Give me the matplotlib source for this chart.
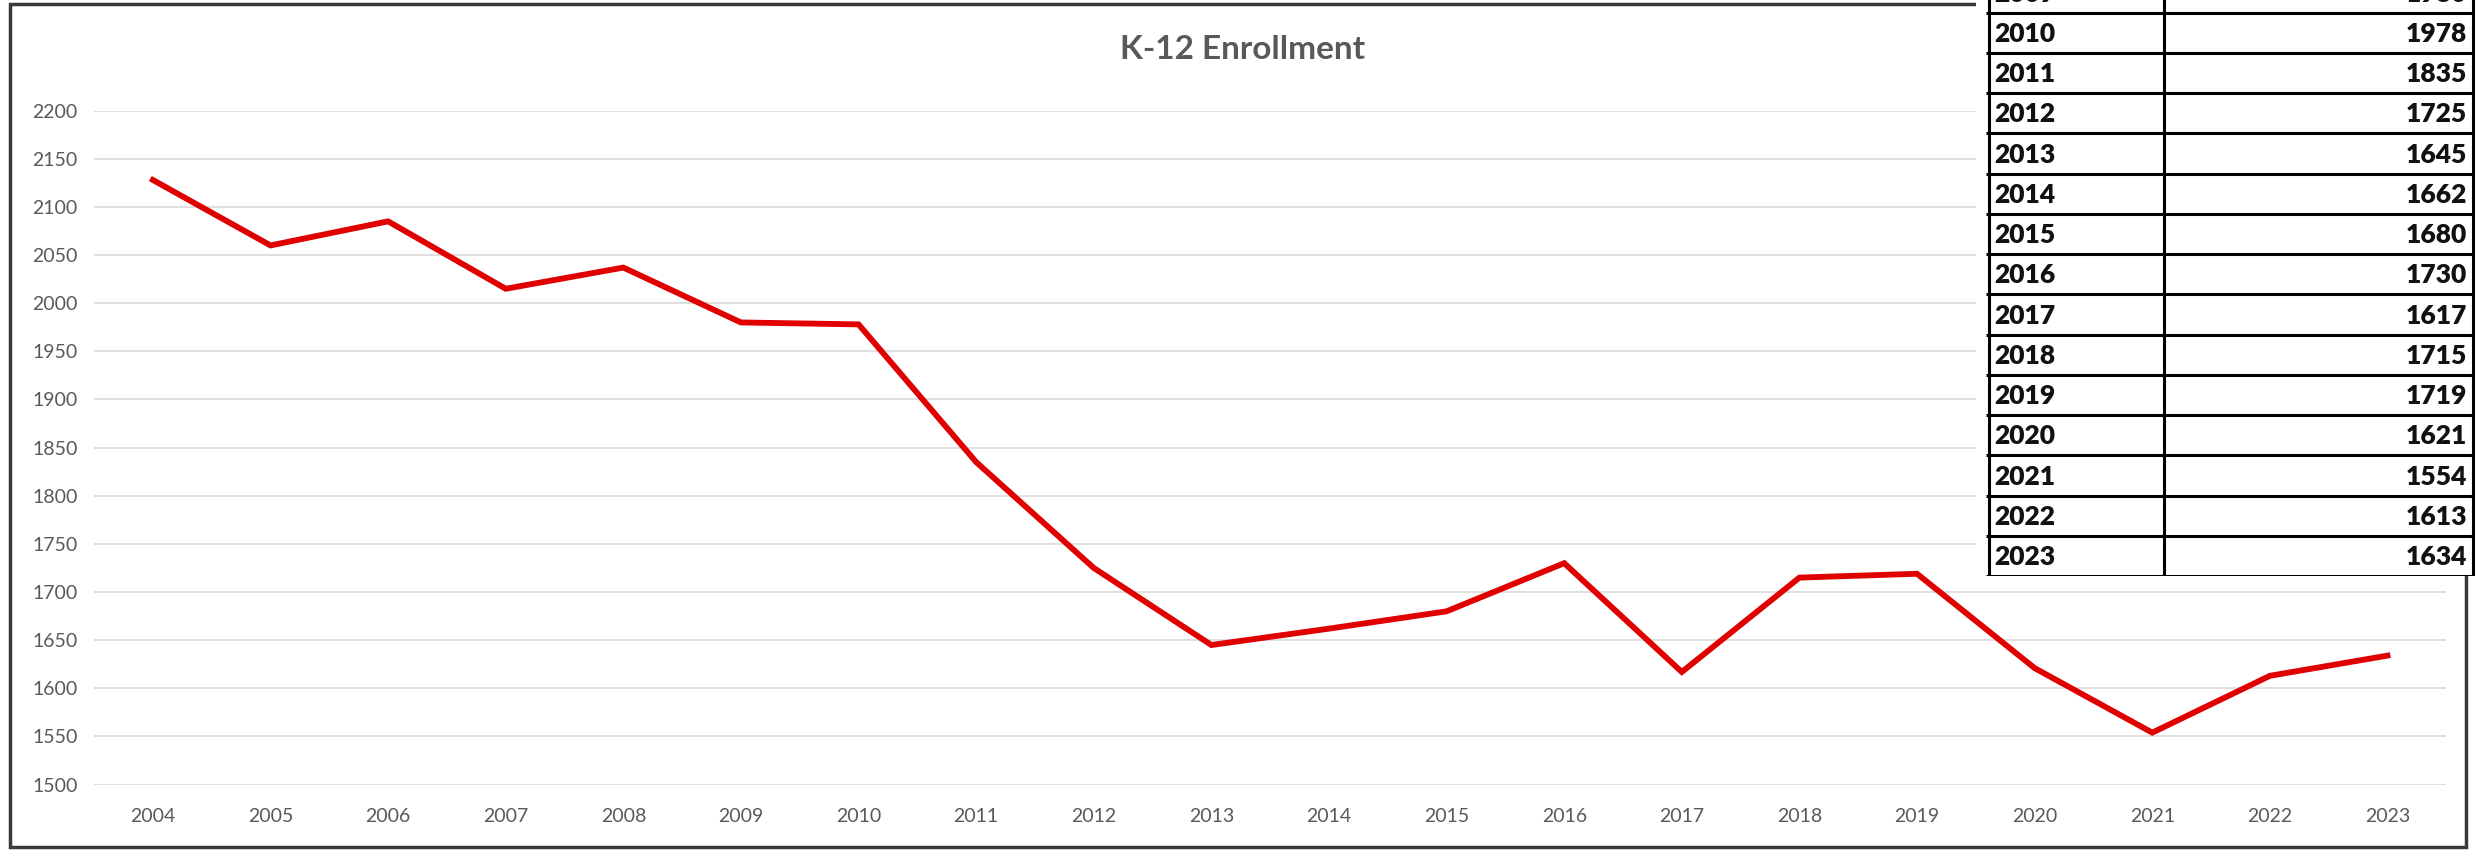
import matplotlib
matplotlib.use('Agg')
import matplotlib.pyplot as plt
from matplotlib.patches import Rectangle

plt.rcParams['font.family'] = ['Lato', 'DejaVu Sans']

# data
years = list(range(2004, 2024))
enrollment = [2128, 2060, 2085, 2015, 2037, 1980, 1978, 1835, 1725, 1645,
              1662, 1680, 1730, 1617, 1715, 1719, 1621, 1554, 1613, 1634]
yticks = list(range(1500, 2201, 50))
# rows shown in the pasted table (2009 row is cut off at the top)
table_years = years[5:]
table_values = enrollment[5:]

fig = plt.figure(figsize=(24.76, 8.51), dpi=100)
fig.patch.set_facecolor('white')

# chart frame
fig.patches.append(Rectangle((0.004, 0.005), 0.992, 0.99, transform=fig.transFigure,
                             fill=False, edgecolor='#3a3a3a', linewidth=2.5, zorder=1))

ax = fig.add_axes([0.038, 0.078, 0.950, 0.792])
ax.set_zorder(2)
ax.patch.set_alpha(0)
x = list(range(len(years)))
ax.plot(x, enrollment, color='#e00000', linewidth=4.2, solid_joinstyle='miter', zorder=3)
ax.set_xlim(-0.5, len(years) - 0.5)
ax.set_ylim(1500, 2200)
ax.set_yticks(yticks)
ax.set_xticks(x)
ax.set_xticklabels([str(y) for y in years])
ax.grid(axis='y', color='#d9d9d9', linewidth=1.2)
ax.set_axisbelow(True)
for s in ax.spines.values():
    s.set_visible(False)
ax.tick_params(length=0, labelsize=14, labelcolor='#595959')
ax.tick_params(axis='y', pad=12)
ax.tick_params(axis='x', pad=17)

fig.text(0.502, 0.942, 'K-12 Enrollment', ha='center', va='center',
         fontsize=24, fontweight='bold', color='#595959')

# table pasted over the top right corner
row_h = 0.0473
tax = fig.add_axes([0.802, 0.323, 0.198, 0.677])
tax.set_zorder(5)
tax.set_xlim(0, 1)
n_full = len(table_years) - 1
tax.set_ylim(0, 0.677 / row_h)
tax.axis('off')
tax.add_patch(Rectangle((-0.02, 0), 1.04, 20, facecolor='white', edgecolor='none',
                        zorder=0, clip_on=False))
tax.hlines(range(0, n_full + 1), 0, 0.994, color='black', linewidth=2.2)
tax.vlines([0.006, 0.364, 0.994], 0, 20, color='black', linewidth=2.2)
for i, (yr, val) in enumerate(zip(table_years, table_values)):
    yc = n_full - i + 0.47
    tax.text(0.018, yc, str(yr), ha='left', va='center', fontsize=19,
             fontweight='heavy', color='#111111')
    tax.text(0.982, yc, str(val), ha='right', va='center', fontsize=19,
             fontweight='heavy', color='#111111')

fig.savefig('out.png', dpi=100, facecolor='white')
